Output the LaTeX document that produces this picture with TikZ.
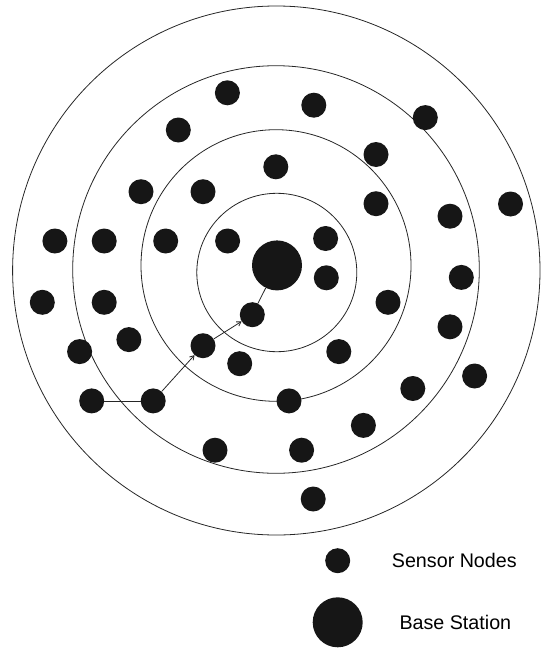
\documentclass[tikz,border=0pt]{standalone}
\usepackage{fontspec}
\setmainfont{Liberation Sans}
\usetikzlibrary{arrows.meta}
\definecolor{dot}{HTML}{161616}
\begin{document}
\begin{tikzpicture}[x=1pt,y=-1pt,
  sensor/.style={circle,fill=dot,draw=none,minimum size=25pt,inner sep=0pt},
  basest/.style={circle,fill=dot,draw=none,minimum size=50pt,inner sep=0pt},
  ring/.style={draw=black!85,line width=0.8pt},
  link/.style={draw=black!85,line width=0.8pt},
  hop/.style={link,-{Straight Barb[length=4pt,width=5pt]}},
  legendtext/.style={font=\fontsize{19.7pt}{22pt}\selectfont,anchor=west,inner sep=0pt}]
\useasboundingbox (0,0) rectangle (543,648);
% rings
\draw[ring] (276.3,270.5) ellipse [x radius=263.7,y radius=264.5];
\draw[ring] (276,269.5) ellipse [x radius=203.3,y radius=203.8];
\draw[ring] (276,265.5) ellipse [x radius=135,y radius=135.8];
\draw[ring] (276.8,272.5) ellipse [x radius=80,y radius=79.2];
% base station
\node[basest] (bs) at (277,265.4) {};
% sensors
\foreach \n/\x/\y in {
 1/227.4/92.8, 2/313.8/105.2, 3/425.3/117.6, 4/178.3/130, 5/376/154.5,
 6/275.8/166.8, 7/141/191.7, 8/203/191.7, 9/376/203.7, 10/510.5/204,
 11/450/216.2, 12/54.9/241, 13/104.2/241, 14/165.7/241, 15/227.6/241,
 16/325.6/238.5, 17/326.3/277.8, 18/461.3/277.4, 19/42.3/302.3, 20/104.2/302.3,
 21/388/302.3, 22/252.3/314.7, 23/450/326.8, 24/128.9/339.6, 25/79.6/351.6,
 26/203/345.7, 27/338.8/351.6, 28/239.7/363.7, 29/474.6/376, 30/412.8/388.5,
 31/91.7/400.9, 32/153.2/400.9, 33/289/400.9, 34/363.4/425.4, 35/215/450.2,
 36/301.6/450.2, 37/313.2/499}
 \node[sensor] (s\n) at (\x,\y) {};
% route
\draw[link] (s31) -- (s32);
\draw[hop] (s32) -- (s26);
\draw[hop] (s26) -- (s22);
\draw[link] (s22) -- (bs);
% legend
\node[sensor] (ls) at (337.7,560.7) {};
\node[legendtext] (lst) at (391.7,560.7) {Sensor Nodes};
\node[basest] (lb) at (337.7,622.3) {};
\node[legendtext] (lbt) at (399.3,622.3) {Base Station};
\end{tikzpicture}
\end{document}
